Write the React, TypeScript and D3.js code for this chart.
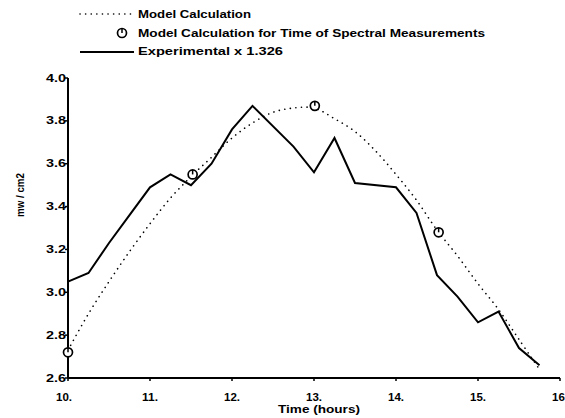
import React from "react";
import * as d3 from "d3";

const expTimes = [10.0, 10.25, 10.5, 10.75, 11.0, 11.25, 11.5, 11.75, 12.0, 12.25, 12.75, 13.0, 13.25, 13.5, 14.0, 14.25, 14.5, 14.75, 15.0, 15.25, 15.5, 15.75];
const expValues = [3.05, 3.09, 3.23, 3.36, 3.49, 3.55, 3.5, 3.6, 3.76, 3.87, 3.68, 3.56, 3.72, 3.51, 3.49, 3.37, 3.08, 2.98, 2.86, 2.91, 2.74, 2.66];

const modelTimes = [10.0, 10.25, 10.5, 10.75, 11.0, 11.25, 11.5, 11.75, 12.0, 12.25, 12.5, 12.75, 13.0, 13.25, 13.5, 13.75, 14.0, 14.25, 14.5, 14.75, 15.0, 15.25, 15.5, 15.75];
const modelValues = [2.73, 2.9, 3.05, 3.19, 3.32, 3.44, 3.54, 3.63, 3.72, 3.79, 3.84, 3.86, 3.86, 3.81, 3.75, 3.66, 3.55, 3.43, 3.29, 3.17, 3.04, 2.92, 2.78, 2.64];

const spectralTimes = [10.0, 11.52, 13.01, 14.52];
const spectralValues = [2.72, 3.55, 3.87, 3.28];

const xTicks = [10, 11, 12, 13, 14, 15, 16];
const xTickLabels = ["10.", "11.", "12.", "13.", "14.", "15.", "16."];
const yTicks = [2.6, 2.8, 3.0, 3.2, 3.4, 3.6, 3.8, 4.0];
const yTickLabels = ["2.6", "2.8", "3.0", "3.2", "3.4", "3.6", "3.8", "4.0"];

const legendLabels = [
  "Model Calculation",
  "Model Calculation for Time of Spectral Measurements",
  "Experimental x 1.326",
];

const FONT = "'Liberation Sans', Arial, sans-serif";

function Marker({ cx, cy }: { cx: number; cy: number }) {
  return (
    <g>
      <circle cx={cx} cy={cy} r={4.5} fill="white" stroke="black" strokeWidth={1.7} />
      <line x1={cx} y1={cy} x2={cx} y2={cy - 4.5} stroke="black" strokeWidth={1.5} />
    </g>
  );
}

export default function App() {
  const x = d3.scaleLinear().domain([10, 16]).range([68, 560]);
  const y = d3.scaleLinear().domain([2.6, 4.0]).range([378, 78]);

  const expLine = d3
    .line<number>()
    .x((_, i) => x(expTimes[i]))
    .y((d) => y(d));
  const modelLine = d3
    .line<number>()
    .x((_, i) => x(modelTimes[i]))
    .y((d) => y(d))
    .curve(d3.curveCatmullRom);

  const legendW = [113, 347, 145];

  return (
    <svg width={565} height={418} style={{ position: "absolute", left: 0, top: 0, background: "white" }} fontFamily={FONT}>
      {/* Legend */}
      <line x1={80} x2={134} y1={14} y2={14} stroke="black" strokeWidth={1.6} strokeDasharray="0.1 5.5" strokeLinecap="round" />
      <text x={138} y={18} fontSize={10} fontWeight="bold" textLength={legendW[0]} lengthAdjust="spacingAndGlyphs">{legendLabels[0]}</text>
      <Marker cx={122} cy={33} />
      <text x={138} y={37} fontSize={10} fontWeight="bold" textLength={legendW[1]} lengthAdjust="spacingAndGlyphs">{legendLabels[1]}</text>
      <line x1={80} x2={134} y1={52} y2={52} stroke="black" strokeWidth={1.8} />
      <text x={138} y={55} fontSize={10} fontWeight="bold" textLength={legendW[2]} lengthAdjust="spacingAndGlyphs">{legendLabels[2]}</text>

      {/* Axes */}
      <line x1={x(10)} x2={x(10)} y1={y(4.0)} y2={y(2.6)} stroke="black" strokeWidth={2} />
      <line x1={x(10)} x2={x(16)} y1={y(2.6)} y2={y(2.6)} stroke="black" strokeWidth={2} />
      {yTicks.map((t, i) => (
        <g key={"y" + i}>
          <line x1={x(10) - 3} x2={x(10)} y1={y(t)} y2={y(t)} stroke="black" strokeWidth={1.5} />
          <text x={x(10) - 2} y={y(t) + 3.5} fontSize={10} fontWeight="bold" textAnchor="end" textLength={20} lengthAdjust="spacingAndGlyphs">{yTickLabels[i]}</text>
        </g>
      ))}
      {xTicks.map((t, i) => (
        <g key={"x" + i}>
          <line x1={x(t)} x2={x(t)} y1={y(2.6)} y2={y(2.6) + 3} stroke="black" strokeWidth={1.5} />
          <text x={x(t) - (i === 0 ? 4 : 0)} y={401} fontSize={10} fontWeight="bold" textAnchor="middle" textLength={16} lengthAdjust="spacingAndGlyphs">{xTickLabels[i]}</text>
        </g>
      ))}
      <text x={319} y={413} fontSize={10} fontWeight="bold" textAnchor="middle" textLength={82} lengthAdjust="spacingAndGlyphs">Time (hours)</text>
      <text transform="translate(24,195) rotate(-90)" fontSize={10} fontWeight="bold" textAnchor="middle" textLength={44} lengthAdjust="spacingAndGlyphs">mw / cm2</text>

      {/* Data */}
      <path d={modelLine(modelValues) || ""} fill="none" stroke="black" strokeWidth={1.6} strokeDasharray="0.1 5.5" strokeLinecap="round" />
      <path d={expLine(expValues) || ""} fill="none" stroke="black" strokeWidth={2} strokeLinejoin="miter" />
      {spectralValues.map((v, i) => (
        <Marker key={"m" + i} cx={x(spectralTimes[i])} cy={y(v)} />
      ))}
    </svg>
  );
}
